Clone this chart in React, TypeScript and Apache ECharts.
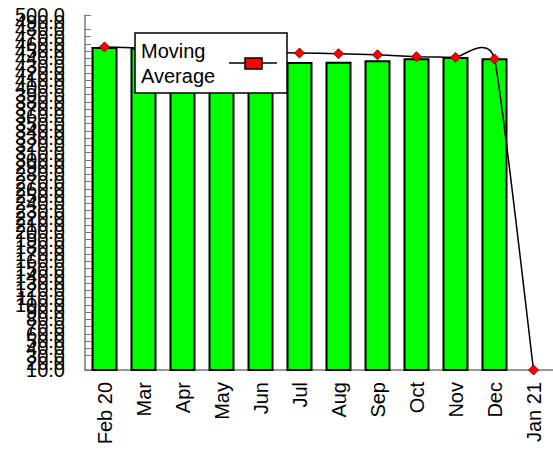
import React, { useEffect, useRef } from "react";
import * as echarts from "echarts";

const categories = ["Feb 20", "Mar", "Apr", "May", "Jun", "Jul", "Aug", "Sep", "Oct", "Nov", "Dec", "Jan 21"];
const barValues = [456, 455, 450, 449, 446, 435, 435.5, 437.5, 440.4, 442, 440.4, null];
const movingAverage = [456, 454, 452, 450, 448.5, 447.5, 446.6, 445, 442.4, 441.5, 439.3, 10];
const yMin = 10;
const yMax = 500;
const yStep = 10;
const legendLabel = ["Moving", "Average"];

const FONT = "'Liberation Sans', Arial, sans-serif";
const TENSION = 0.08;

export default function App() {
  const ref = useRef<HTMLDivElement>(null);
  useEffect(() => {
    document.body.style.margin = "0";
    const chart = echarts.init(ref.current!, null, { renderer: "svg" });
    const labelBase = {
      margin: 20,
      fontSize: 20,
      color: "#000",
      fontFamily: FONT,
      hideOverlap: false,
    };
    chart.setOption({
      animation: false,
      backgroundColor: "#ffffff",
      grid: { left: 85, right: 0, top: 15, bottom: 81 },
      xAxis: {
        type: "category",
        data: categories,
        boundaryGap: true,
        axisLine: { lineStyle: { color: "#777", width: 1.5 } },
        axisTick: { show: false },
        axisLabel: {
          interval: 0,
          rotate: 90,
          margin: 12,
          fontSize: 20,
          color: "#000",
          fontFamily: FONT,
        },
      },
      yAxis: [
        {
          type: "value",
          min: yMin,
          max: yMax,
          interval: yStep,
          splitLine: { show: false },
          axisLine: { show: true, lineStyle: { color: "#777", width: 1.5 } },
          axisTick: { show: true, inside: true, length: 6, lineStyle: { color: "#777" } },
          axisLabel: {
            ...labelBase,
            showMinLabel: true,
            showMaxLabel: true,
            formatter: (v: number) => v.toFixed(1),
          },
        },
        {
          type: "value",
          position: "left",
          min: yMin,
          max: yMax,
          interval: yStep,
          splitLine: { show: false },
          axisLine: { show: false },
          axisTick: { show: false },
          axisLabel: {
            ...labelBase,
            showMinLabel: false,
            showMaxLabel: false,
            formatter: (v: number) =>
              v === yMin + yStep || v === yMax - yStep ? v.toFixed(1) : "",
          },
        },
      ],
      series: [
        {
          type: "bar",
          data: barValues,
          barWidth: 26,
          itemStyle: { color: "#00ff00", borderColor: "#000", borderWidth: 2 },
          z: 2,
        },
        {
          type: "custom",
          data: [[0, movingAverage[0]]],
          z: 3,
          silent: true,
          renderItem: (params: any, api: any) => {
            const pts = movingAverage.map((v, i) => api.coord([i, v]));
            const n = pts.length;
            const P = (i: number) => pts[Math.max(0, Math.min(n - 1, i))];
            let d = `M${pts[0][0]},${pts[0][1]}`;
            for (let i = 0; i < n - 1; i++) {
              const p0 = P(i - 1), p1 = P(i), p2 = P(i + 1), p3 = P(i + 2);
              const c1x = p1[0] + (p2[0] - p0[0]) * TENSION;
              const c1y = p1[1] + (p2[1] - p0[1]) * TENSION;
              const c2x = p2[0] - (p3[0] - p1[0]) * TENSION;
              const c2y = p2[1] - (p3[1] - p1[1]) * TENSION;
              d += ` C${c1x},${c1y} ${c2x},${c2y} ${p2[0]},${p2[1]}`;
            }
            return {
              type: "path",
              shape: { pathData: d },
              style: { fill: "none", stroke: "#000", lineWidth: 1.5 },
            };
          },
        },
        {
          type: "line",
          name: "Moving Average",
          data: movingAverage,
          symbol: "diamond",
          symbolSize: 10,
          itemStyle: { color: "#ff0000", borderColor: "#8b0000", borderWidth: 1 },
          lineStyle: { color: "#000", width: 0, opacity: 0 },
          z: 4,
        },
      ],
      graphic: [
        {
          type: "rect",
          z: 100,
          shape: { x: 135, y: 33, width: 152, height: 60 },
          style: { fill: "#fff", stroke: "#000", lineWidth: 1.5 },
        },
        {
          type: "text",
          z: 101,
          x: 141,
          y: 38,
          style: {
            text: legendLabel.join("\n"),
            fontSize: 20,
            fontFamily: FONT,
            lineHeight: 25,
            fill: "#000",
          },
        },
        {
          type: "line",
          z: 101,
          shape: { x1: 229, y1: 63, x2: 277, y2: 63 },
          style: { stroke: "#000", lineWidth: 1.5 },
        },
        {
          type: "rect",
          z: 102,
          shape: { x: 245, y: 58, width: 17, height: 11 },
          style: { fill: "#ff0000", stroke: "#000", lineWidth: 1.5 },
        },
      ],
    });
    return () => chart.dispose();
  }, []);
  return <div ref={ref} style={{ width: 553, height: 451 }} />;
}
